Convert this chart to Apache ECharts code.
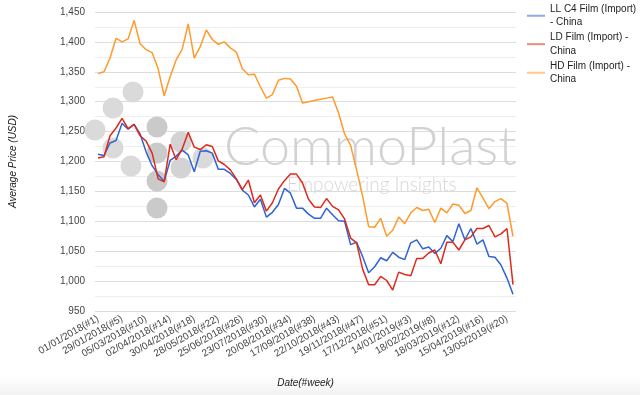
<!DOCTYPE html>
<html>
<head>
<meta charset="utf-8">
<script src="https://cdn.jsdelivr.net/npm/echarts@6/dist/echarts.min.js"></script>
<style>
html,body{margin:0;padding:0;background:#fff;}
#chart{width:640px;height:395px;}
</style>
</head>
<body>
<div id="chart"></div>
<script>
const weeks = [
  '01/01/2018(#1)','08/01/2018(#2)','15/01/2018(#3)','22/01/2018(#4)','29/01/2018(#5)',
  '05/02/2018(#6)','19/02/2018(#8)','26/02/2018(#9)','05/03/2018(#10)','12/03/2018(#11)',
  '19/03/2018(#12)','26/03/2018(#13)','02/04/2018(#14)','09/04/2018(#15)','16/04/2018(#16)',
  '23/04/2018(#17)','30/04/2018(#18)','07/05/2018(#19)','14/05/2018(#20)','21/05/2018(#21)',
  '28/05/2018(#22)','04/06/2018(#23)','11/06/2018(#24)','18/06/2018(#25)','25/06/2018(#26)',
  '02/07/2018(#27)','09/07/2018(#28)','16/07/2018(#29)','23/07/2018(#30)','30/07/2018(#31)',
  '06/08/2018(#32)','13/08/2018(#33)','20/08/2018(#34)','27/08/2018(#35)','03/09/2018(#36)',
  '10/09/2018(#37)','17/09/2018(#38)','24/09/2018(#39)','08/10/2018(#41)','15/10/2018(#42)',
  '22/10/2018(#43)','29/10/2018(#44)','05/11/2018(#45)','12/11/2018(#46)','19/11/2018(#47)',
  '26/11/2018(#48)','03/12/2018(#49)','10/12/2018(#50)','17/12/2018(#51)','24/12/2018(#52)',
  '31/12/2018(#1)','07/01/2019(#2)','14/01/2019(#3)','21/01/2019(#4)','28/01/2019(#5)',
  '11/02/2019(#7)','18/02/2019(#8)','25/02/2019(#9)','04/03/2019(#10)','11/03/2019(#11)',
  '18/03/2019(#12)','25/03/2019(#13)','01/04/2019(#14)','08/04/2019(#15)','15/04/2019(#16)',
  '22/04/2019(#17)','29/04/2019(#18)','06/05/2019(#19)','13/05/2019(#20)','20/05/2019(#21)'
];

const llC4Film = [
  1212,1210,1231,1235,1264,1254,1262,1246,1216,1193,
  1178,1167,1202,1209,1219,1211,1183,1217,1218,1214,
  1187,1187,1180,1170,1152,1144,1124,1137,1107,1115,
  1128,1155,1147,1122,1122,1112,1105,1105,1122,1111,
  1101,1100,1061,1065,1041,1014,1024,1039,1034,1048,
  1040,1036,1064,1069,1054,1057,1046,1055,1076,1066,
  1096,1069,1088,1062,1069,1041,1040,1027,1005,978
];

const ldFilm = [
  1206,1208,1243,1256,1272,1255,1262,1243,1234,1214,
  1171,1166,1229,1203,1221,1249,1224,1220,1228,1225,
  1201,1195,1186,1171,1153,1169,1131,1144,1117,1131,
  1154,1168,1179,1179,1164,1137,1124,1123,1138,1125,
  1119,1104,1072,1064,1020,994,994,1008,1001,985,
  1015,1011,1009,1038,1038,1047,1052,1029,1065,1065,
  1052,1069,1074,1088,1088,1093,1074,1079,1088,994
];

const hdFilm = [
  1347,1350,1373,1406,1400,1405,1436,1397,1387,1382,
  1355,1310,1342,1370,1388,1430,1373,1392,1420,1404,
  1396,1400,1390,1383,1355,1345,1346,1325,1306,1312,
  1336,1339,1338,1326,1298,1300,1302,1304,1306,1308,
  1281,1246,1227,1186,1142,1091,1090,1105,1075,1085,
  1107,1096,1114,1123,1118,1120,1098,1122,1114,1129,
  1127,1113,1118,1156,1139,1121,1133,1138,1130,1075
];

const seriesNames = ['LL C4 Film (Import) - China', 'LD Film (Import) - China', 'HD Film (Import) - China'];
const legendLabels = ['LL C4 Film (Import)\n- China', 'LD Film (Import) -\nChina', 'HD Film (Import) -\nChina'];
const seriesColors = ['#2f63d6', '#de2a1c', '#ff9a2c'];
const yMin = 950, yMax = 1450, yStep = 50;
const yAxisTitle = 'Average Price (USD)';
const xAxisTitle = 'Date(#week)';
const brand = 'CommoPlast';
const tagline = 'Empowering Insights';

const chart = echarts.init(document.getElementById('chart'), null, {renderer: 'canvas'});
const FONT = 'Liberation Sans, Arial, Helvetica, sans-serif';

function fmt(v) { return String(v).replace(/\B(?=(\d{3})+(?!\d))/g, ','); }

const legendTops = [-4.8, 23.6, 52.2];
const legends = seriesNames.map((n, i) => ({
  data: [n],
  orient: 'vertical',
  left: 527,
  top: legendTops[i],
  padding: 0,
  icon: 'rect',
  itemWidth: 18,
  itemHeight: 2,
  itemStyle: {opacity: 0.55},
  formatter: () => legendLabels[i],
  textStyle: {fontFamily: FONT, fontSize: 10, color: '#222', lineHeight: 13.7, padding: [13.7, 0, 0, 0]},
  selectedMode: false
}));

const dataArrays = [llC4Film, ldFilm, hdFilm];

// watermark circles (logo decoration)
const circleSpec = [
  [95,130,'#dadada'],[113,108,'#dadada'],[133,92,'#dadada'],[113,148,'#dadada'],
  [131,166,'#dadada'],[157,127,'#cacaca'],[157,153,'#cacaca'],[157,181,'#cacaca'],
  [157,208,'#cacaca'],[181,142,'#d3d3d3'],[181,168,'#d3d3d3'],[203,158,'#dadada']
];
const graphics = circleSpec.map(c => ({
  type: 'circle', shape: {cx: c[0], cy: c[1], r: 10.5}, style: {fill: c[2]}, z: 1, silent: true
}));
graphics.push({
  type: 'text', left: 224, top: 121, z: 1, silent: true,
  style: {text: brand, font: '300 54px Lato, Liberation Sans, sans-serif', fill: '#d2d2d2'}
});
graphics.push({
  type: 'text', left: 287, top: 175, z: 1, silent: true,
  style: {text: tagline, font: '300 19px Lato, Liberation Sans, sans-serif', fill: '#d6d6d6'}
});
graphics.push({
  type: 'rect', left: 0, top: 375, z: 0, silent: true,
  shape: {width: 640, height: 20},
  style: {fill: new echarts.graphic.LinearGradient(0, 0, 0, 1, [
    {offset: 0, color: 'rgba(0,0,0,0)'}, {offset: 1, color: 'rgba(0,0,0,0.05)'}
  ])}
});

const option = {
  animation: false,
  backgroundColor: '#fff',
  color: seriesColors,
  grid: {left: 94, right: 124, top: 12, bottom: 84, containLabel: false},
  legend: legends,
  graphic: graphics,
  xAxis: {
    type: 'category',
    data: weeks,
    boundaryGap: true,
    name: xAxisTitle,
    nameLocation: 'middle',
    nameGap: 67,
    nameTextStyle: {fontFamily: FONT, fontSize: 10, fontStyle: 'italic', color: '#222'},
    axisLine: {show: false},
    axisTick: {show: false},
    axisLabel: {interval: 3, rotate: 30, fontFamily: FONT, fontSize: 10, color: '#444', margin: 7},
    splitLine: {show: false}
  },
  yAxis: {
    type: 'value',
    min: yMin, max: yMax, interval: yStep,
    name: yAxisTitle,
    nameLocation: 'middle',
    nameGap: 77,
    nameRotate: 90,
    nameTextStyle: {fontFamily: FONT, fontSize: 10, fontStyle: 'italic', color: '#222'},
    axisLine: {show: false},
    axisTick: {show: false},
    axisLabel: {fontFamily: FONT, fontSize: 10, color: '#444', margin: 10, formatter: v => fmt(v)},
    splitLine: {show: true, lineStyle: {color: '#dcdcdc', width: 1}},
    minorTick: {show: false, splitNumber: 2},
    minorSplitLine: {show: true, lineStyle: {color: '#eeeeee', width: 1}}
  },
  series: seriesNames.map((n, i) => ({
    name: n,
    type: 'line',
    data: dataArrays[i],
    symbol: 'none',
    z: 3 + i,
    lineStyle: {width: 1.5, color: seriesColors[i]},
    itemStyle: {color: seriesColors[i]}
  }))
};
chart.setOption(option);
</script>
</body>
</html>
